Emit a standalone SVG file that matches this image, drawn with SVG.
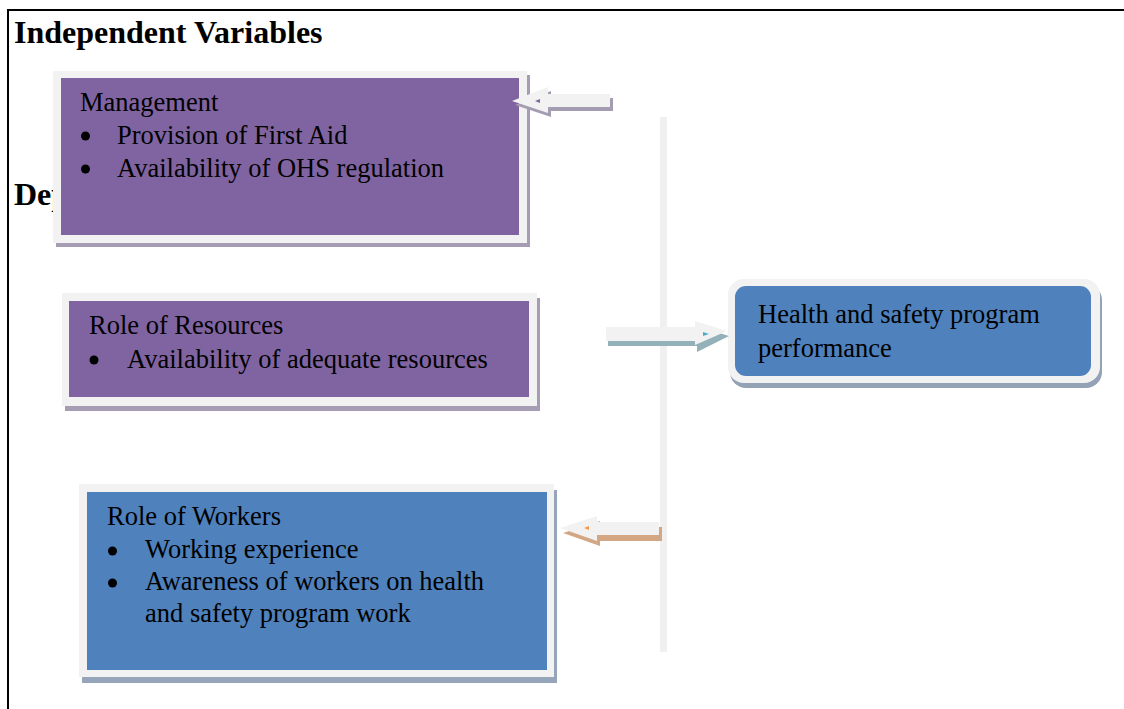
<svg xmlns="http://www.w3.org/2000/svg" width="1124" height="709" viewBox="0 0 1124 709">
  <style>
    text { font-family: "Liberation Serif", "Times New Roman", serif; fill: #000; }
    .body { font-size: 26.5px; }
    .head { font-size: 32px; font-weight: bold; }
    .frame { fill: #f2f2f2; }
    .purple { fill: #8064a2; }
    .blue { fill: #4f81bd; }
    .arrow { fill: #f2f2f2; }
    .dot { fill: #000; }
  </style>

  <!-- page border -->
  <path d="M8,709 V10 H1124" fill="none" stroke="#000" stroke-width="2"/>

  <!-- headings -->
  <text class="head" x="14" y="43">Independent Variables</text>
  <text class="head" x="14" y="205">Dep</text>

  <!-- vertical connector bar -->
  <rect x="660" y="117" width="7" height="535" fill="#f0f0f0"/>

  <g id="management">
    <rect x="56" y="75" width="474" height="172" fill="#a69cb4"/>
    <rect class="frame" x="53" y="71" width="474" height="172"/>
    <rect class="purple" x="61" y="78" width="458" height="157"/>
    <text class="body" x="80" y="111">Management</text>
    <circle class="dot" cx="85.5" cy="136" r="4.5"/>
    <text class="body" x="117" y="144">Provision of First Aid</text>
    <circle class="dot" cx="85.5" cy="169" r="4.5"/>
    <text class="body" x="117" y="177">Availability of OHS regulation</text>
  </g>

  <g id="resources">
    <rect x="65" y="298" width="475" height="113" fill="#a69cb4"/>
    <rect class="frame" x="62" y="293" width="475" height="113"/>
    <rect class="purple" x="69" y="301" width="460" height="96"/>
    <text class="body" x="89" y="334">Role of Resources</text>
    <circle class="dot" cx="94" cy="360" r="4.5"/>
    <text class="body" x="127" y="368">Availability of adequate resources</text>
  </g>

  <g id="workers">
    <rect x="82" y="490" width="475" height="193" fill="#97a5bb"/>
    <rect class="frame" x="79" y="484" width="475" height="193"/>
    <rect class="blue" x="87" y="492" width="460" height="178"/>
    <text class="body" x="107" y="525">Role of Workers</text>
    <circle class="dot" cx="112.5" cy="551" r="4.5"/>
    <text class="body" x="145" y="558">Working experience</text>
    <circle class="dot" cx="112.5" cy="583" r="4.5"/>
    <text class="body" x="145" y="590">Awareness of workers on health</text>
    <text class="body" x="145" y="622">and safety program work</text>
  </g>

  <g id="performance">
    <rect x="730" y="284" width="372" height="104" rx="16" fill="#94a2b6"/>
    <rect class="frame" x="728" y="279" width="372" height="104" rx="16"/>
    <rect class="blue" x="735" y="286" width="356" height="90" rx="11"/>
    <text class="body" x="758" y="323">Health and safety program</text>
    <text class="body" x="758" y="357">performance</text>
  </g>

  <g id="connectors">
    <!-- arrow to Management -->
    <polygon points="515,105 551,91 551,98 613,98 613,111 551,111 551,117" fill="#a49db2"/>
    <polygon class="arrow" points="512,101 548,87 548,94 610,94 610,107 548,107 548,113"/>
    <polygon points="535,101 540,99 540,103" fill="#8064a2"/>

    <!-- arrow to Health and safety program performance -->
    <polygon points="608,332 697,332 697,326 729,336 697,352 697,346 608,346" fill="#93b1b9"/>
    <polygon class="arrow" points="606,327 695,327 695,321 727,331 695,345 695,341 606,341"/>
    <polygon points="703,332 709,334 703,336" fill="#4bacc6"/>

    <!-- arrow to Role of Workers -->
    <polygon points="563,533 600,521 600,527 662,527 662,541 600,541 600,546" fill="#d3a784"/>
    <polygon class="arrow" points="560,528 597,516 597,522 659,522 659,535 597,535 597,541"/>
    <polygon points="584,528 589,526 589,530" fill="#f79646"/>
  </g>
</svg>
